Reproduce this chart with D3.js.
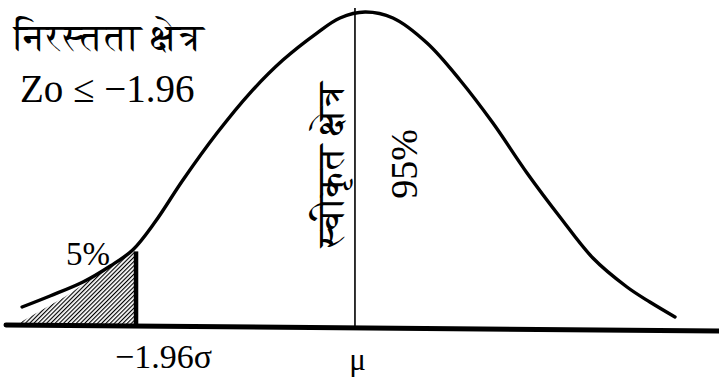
<!DOCTYPE html>
<html>
<head>
<meta charset="utf-8">
<script src="https://cdn.jsdelivr.net/npm/d3@7"></script>
</head>
<body style="margin:0;background:#fff">
<svg id="chart" width="719" height="380" style="display:block"></svg>
<script>
// ---- data ----
// curve: z (in sigma units from the mean) and relative density
const curveZ = [-2.98, -2.73, -2.435, -2.19, -1.99, -1.79, -1.54, -1.235, -0.94, -0.645, -0.34, -0.134, 0.09, 0.34, 0.645, 0.94, 1.235, 1.54, 1.835, 2.13, 2.435, 2.64, 2.865];
const curveD = [0.0254, 0.0394, 0.0571, 0.0775, 0.0978, 0.1333, 0.1867, 0.2463, 0.2971, 0.339, 0.3733, 0.3924, 0.4, 0.3924, 0.3606, 0.3137, 0.259, 0.1956, 0.1397, 0.0876, 0.0508, 0.0317, 0.0127];
// hatched rejection region (lower tail) outline
const hatchZ = [-3.07, -2.6, -2.19, -1.99, -1.96, -1.96];
const hatchD = [0, 0.038, 0.0775, 0.0978, 0.094, 0];
const criticalZ = -1.96;
const criticalTop = 0.096;
const meanZ = 0;
const meanTop = 0.405;
const tickValues = [-1.96, 0];
const tickLabels = ["\u22121.96\u03c3", "\u03bc"];
const rejectTitle = "निरस्तता क्षेत्र";
const rejectRule = "Zo \u2264 \u22121.96";
const tailLabel = "5%";
const acceptTitle = "स्वीकृत क्षेत्र";
const acceptLabel = "95%";

const SERIF = "'Liberation Serif', serif";
const DEVA = "'FreeSerif', 'Liberation Serif', serif";

// ---- scales ----
const x = d3.scaleLinear().domain([-3.133, 3.259]).range([5, 719]);
const y = d3.scaleLinear().domain([0, 0.4]).range([327, 12]);

const svg = d3.select("#chart");

// hatch pattern
const defs = svg.append("defs");
const pat = defs.append("pattern")
  .attr("id", "hatch").attr("patternUnits", "userSpaceOnUse")
  .attr("width", 3).attr("height", 3)
  .attr("patternTransform", "rotate(45)");
pat.append("line").attr("x1", 0.5).attr("y1", -1).attr("x2", 0.5).attr("y2", 4)
  .attr("stroke", "#000").attr("stroke-width", 1.3);

// hatched area
const hatchPts = hatchZ.map((z, i) => [z, hatchD[i]]);
svg.append("path")
  .attr("d", d3.line().x(d => x(d[0])).y(d => y(d[1])).curve(d3.curveLinear)(hatchPts) + "Z")
  .attr("fill", "url(#hatch)").attr("stroke", "none");

// baseline
svg.append("line")
  .attr("x1", 6).attr("y1", 325).attr("x2", 719).attr("y2", 331)
  .attr("stroke", "#000").attr("stroke-width", 5).attr("stroke-linecap", "round");

// mean line
svg.append("line")
  .attr("x1", x(meanZ)).attr("x2", x(meanZ))
  .attr("y1", y(meanTop)).attr("y2", y(0))
  .attr("stroke", "#000").attr("stroke-width", 1.6);

// critical value bar
svg.append("line")
  .attr("x1", x(criticalZ)).attr("x2", x(criticalZ))
  .attr("y1", y(criticalTop)).attr("y2", y(0))
  .attr("stroke", "#000").attr("stroke-width", 4.5);

// curve
const curvePts = curveZ.map((z, i) => [z, curveD[i]]);
svg.append("path")
  .attr("d", d3.line().x(d => x(d[0])).y(d => y(d[1])).curve(d3.curveCatmullRom.alpha(0.5))(curvePts))
  .attr("fill", "none").attr("stroke", "#000").attr("stroke-width", 3.4)
  .attr("stroke-linecap", "round");

// axis tick labels (placed at the tick positions of a bottom axis)
const axis = d3.axisBottom(x).tickValues(tickValues).tickSize(0)
  .tickFormat((d, i) => tickLabels[i]);
const gAxis = svg.append("g").attr("transform", "translate(0,327)").call(axis);
gAxis.select(".domain").remove();
gAxis.attr("font-family", SERIF).attr("font-size", 34);
gAxis.selectAll("text")
  .attr("font-family", SERIF)
  .attr("fill", "#000").attr("y", 0).attr("dy", null)
  .attr("font-size", (d, i) => i === 0 ? 34 : 31)
  .attr("transform", (d, i) => i === 0 ? "translate(27,41)" : "translate(2,43)");

// texts
svg.append("text").attr("font-family", DEVA)
  .attr("x", 14).attr("y", 50).attr("font-size", 38)
  .attr("textLength", 190).attr("lengthAdjust", "spacingAndGlyphs")
  .text(rejectTitle);
svg.append("text").attr("font-family", SERIF)
  .attr("x", 20).attr("y", 102).attr("font-size", 39)
  .text(rejectRule);
svg.append("text").attr("font-family", SERIF)
  .attr("x", 66).attr("y", 265).attr("font-size", 33)
  .text(tailLabel);
svg.append("text").attr("font-family", DEVA)
  .attr("transform", "translate(343,247) rotate(-90)")
  .attr("font-size", 38)
  .attr("textLength", 165).attr("lengthAdjust", "spacingAndGlyphs")
  .text(acceptTitle);
svg.append("text").attr("font-family", SERIF)
  .attr("transform", "translate(417,164) rotate(-90)")
  .attr("text-anchor", "middle")
  .attr("font-size", 38)
  .text(acceptLabel);
</script>
</body>
</html>
